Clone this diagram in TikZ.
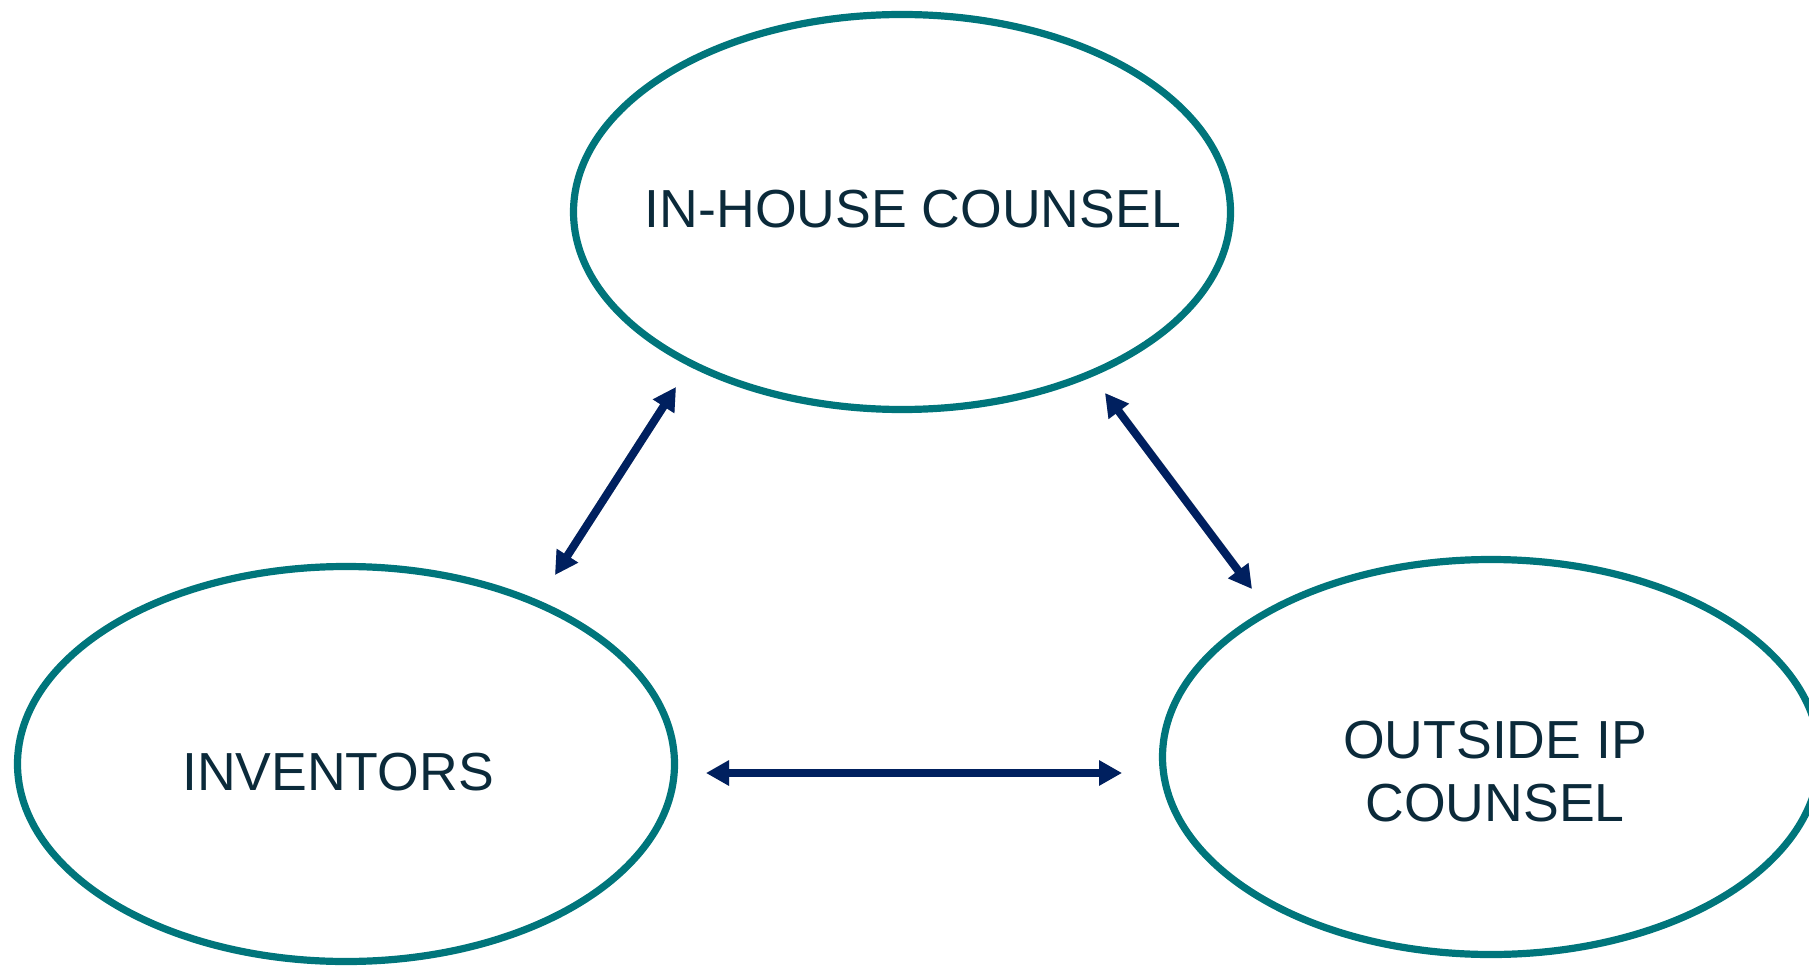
\documentclass[tikz,border=0pt]{standalone}
\usepackage{fontspec}
\setmainfont{Liberation Sans}
\usetikzlibrary{arrows.meta,shapes.geometric}
\definecolor{teal}{HTML}{00757B}
\definecolor{navy}{HTML}{00205F}
\definecolor{ink}{HTML}{0B2A3A}
\begin{document}
\begin{tikzpicture}[x=0.5pt,y=-0.5pt,
  bubble/.style={ellipse,draw=teal,line width=3.6pt,minimum width=328.5pt,minimum height=197.5pt,inner sep=0pt},
  caption/.style={text=ink,font=\fontsize{26.8}{31.5}\selectfont,align=center,inner sep=0pt},
  link/.style={draw=navy,line width=4pt,{Triangle[length=11.5pt,width=12pt]}-{Triangle[length=11.5pt,width=12pt]}},
  shade/.style={draw=black,opacity=0.22,line width=4pt,{Triangle[length=11.5pt,width=12pt]}-{Triangle[length=11.5pt,width=12pt]}}]
\useasboundingbox (0,0) rectangle (1809,968);
\clip (0,0) rectangle (1809,968);
\node[bubble] (top) at (902,212) {};
\node[bubble] (inv) at (346,764) {};
\node[bubble] (out) at (1491,757) {};
\node[caption] (topt) at (913,209) {IN-HOUSE COUNSEL};
\node[caption] (invt) at (338,772) {INVENTORS};
\node[caption] (outt) at (1495,772) {OUTSIDE IP\\COUNSEL};
\coordinate (a1) at (555,575);
\coordinate (a2) at (676,387);
\coordinate (b1) at (1105,393);
\coordinate (b2) at (1252,589);
\coordinate (c1) at (706,773);
\coordinate (c2) at (1122,773);
\begin{scope}[shift={(2,4)}]
\draw[shade] (a1) -- (a2);
\draw[shade] (b1) -- (b2);
\draw[shade] (c1) -- (c2);
\end{scope}
\draw[link] (a1) -- (a2);
\draw[link] (b1) -- (b2);
\draw[link] (c1) -- (c2);
\end{tikzpicture}
\end{document}
